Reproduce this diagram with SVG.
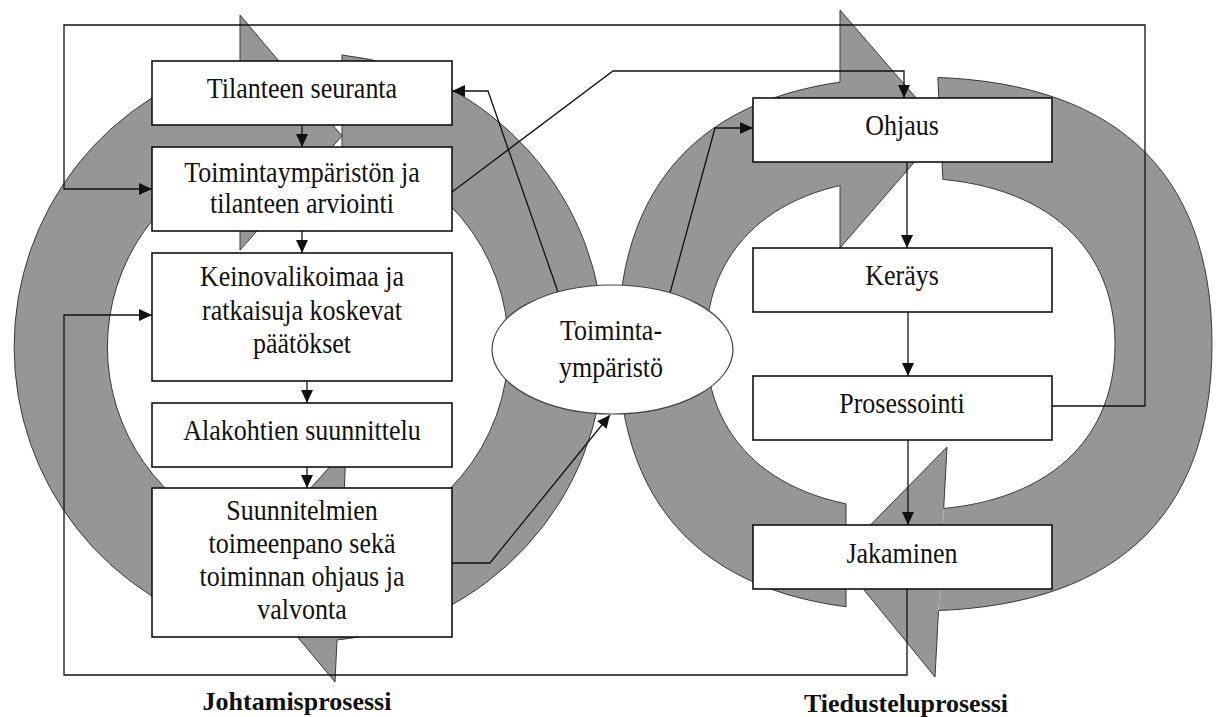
<svg xmlns="http://www.w3.org/2000/svg" width="1218" height="717" viewBox="0 0 1218 717">
<defs>
<style>
.ring{fill:#969696;stroke:#3a3a3a;stroke-width:1}
.rfill{fill:#969696;stroke:none}
.edge{fill:none;stroke:#3a3a3a;stroke-width:1}
.box{fill:#fff;stroke:#111;stroke-width:1.6}
.ell{fill:#fff;stroke:#444;stroke-width:1.2}
.con{fill:none;stroke:#111;stroke-width:1.3}
.arr{marker-end:url(#ah)}
.t{font-family:"Liberation Serif","Times New Roman",serif;font-size:26px;fill:#111;text-anchor:middle}
.title{font-family:"Liberation Serif","Times New Roman",serif;font-size:26px;font-weight:bold;fill:#111;text-anchor:middle}
</style>
<marker id="ah" markerUnits="userSpaceOnUse" markerWidth="14" markerHeight="12" refX="13" refY="6" orient="auto"><path d="M0,0 L13,6 L0,12 Z" fill="#111"/></marker>
<clipPath id="rl"><polygon points="0,0 840,0 840,344 846,344 846,717 0,717"/></clipPath>
<clipPath id="rr"><polygon points="934,0 1218,0 1218,717 933,717 947,447 951,344"/></clipPath>
<path id="rband" fill-rule="evenodd" d="M1212,344 C1212,520 1111,611 915,611 C719,611 618,520 618,344 C618,168 719,77 915,77 C1111,77 1212,168 1212,344 Z M1115,344 C1115,447 1037.5,510 910.5,510 C783.5,510 706,447 706,344 C706,241 783.5,178 910.5,178 C1037.5,178 1115,241 1115,344 Z"/>
</defs>
<rect width="1218" height="717" fill="#fff"/>

<g id="cycle-left">
<path class="ring" d="M240,633 A294,294 0 0 1 240,61 L240,15 L342,136 L240,250 L240,158 A201,201 0 0 0 240,536 Z"/>
<path class="ring" d="M342,55 A294,294 0 0 1 337,640 L335,682 L239,567 L346,449 L342,545 A201,201 0 0 0 342,149 Z"/>
</g>

<g id="cycle-right">
<g clip-path="url(#rl)"><use href="#rband" class="ring" fill-rule="evenodd"/></g>
<g clip-path="url(#rr)"><use href="#rband" class="ring" fill-rule="evenodd"/></g>
<polygon class="rfill" points="840,10 943,129 840,248"/>
<polyline class="edge" points="840,82 840,10 943,129 840,248 840,185"/>
<line class="edge" x1="937.8" y1="77.5" x2="942.9" y2="179.5"/>
<polygon class="rfill" points="947,447 838,558 935,677"/>
<polyline class="edge" points="943.7,508.5 947,447 838,558 935,677 938.5,610.6"/>
<line class="edge" x1="846" y1="504" x2="846" y2="607"/>
</g>

<g id="connectors">
<polyline class="con arr" points="1052,406 1145,406 1145,25 64,25 64,189 152,189"/>
<polyline class="con arr" points="907,589 907,675 64,675 64,315 152,315"/>
<polyline class="con arr" points="452,192 613,71 904,71 904,98"/>
<polyline class="con arr" points="558,292 488,91 452,91"/>
<polyline class="con arr" points="670,293 715,128 753,128"/>
<polyline class="con arr" points="452,563 490,563 610,415"/>
<line class="con arr" x1="302" y1="125" x2="302" y2="147"/>
<line class="con arr" x1="302" y1="231" x2="302" y2="253"/>
<line class="con arr" x1="307" y1="381" x2="307" y2="403"/>
<line class="con arr" x1="307" y1="467" x2="307" y2="488"/>
<line class="con arr" x1="907" y1="162" x2="907" y2="248"/>
<line class="con arr" x1="908" y1="312" x2="908" y2="376"/>
<line class="con arr" x1="908" y1="440" x2="908" y2="525"/>
</g>

<g id="n-tilanteen-seuranta">
<rect class="box" x="152" y="61" width="300" height="64"/>
<text class="t" transform="translate(302,98) scale(1,1.15)">Tilanteen seuranta</text>
</g>
<g id="n-arviointi">
<rect class="box" x="152" y="147" width="300" height="84"/>
<text class="t" transform="translate(302,182) scale(1,1.15)">Toimintaympäristön ja</text>
<text class="t" transform="translate(302,213) scale(1,1.15)">tilanteen arviointi</text>
</g>
<g id="n-paatokset">
<rect class="box" x="152" y="253" width="300" height="128"/>
<text class="t" transform="translate(302,286) scale(1,1.15)">Keinovalikoimaa ja</text>
<text class="t" transform="translate(302,320) scale(1,1.15)">ratkaisuja koskevat</text>
<text class="t" transform="translate(302,353) scale(1,1.15)">päätökset</text>
</g>
<g id="n-alakohtien">
<rect class="box" x="152" y="403" width="300" height="64"/>
<text class="t" transform="translate(302,440) scale(1,1.15)">Alakohtien suunnittelu</text>
</g>
<g id="n-toimeenpano">
<rect class="box" x="152" y="488" width="300" height="149"/>
<text class="t" transform="translate(302,520) scale(1,1.15)">Suunnitelmien</text>
<text class="t" transform="translate(302,553) scale(1,1.15)">toimeenpano sekä</text>
<text class="t" transform="translate(302,586) scale(1,1.15)">toiminnan ohjaus ja</text>
<text class="t" transform="translate(302,619) scale(1,1.15)">valvonta</text>
</g>

<g id="n-ohjaus">
<rect class="box" x="753" y="98" width="299" height="64"/>
<text class="t" transform="translate(902,135) scale(1,1.15)">Ohjaus</text>
</g>
<g id="n-kerays">
<rect class="box" x="753" y="248" width="299" height="64"/>
<text class="t" transform="translate(902,285) scale(1,1.15)">Keräys</text>
</g>
<g id="n-prosessointi">
<rect class="box" x="753" y="376" width="299" height="64"/>
<text class="t" transform="translate(902,413) scale(1,1.15)">Prosessointi</text>
</g>
<g id="n-jakaminen">
<rect class="box" x="753" y="525" width="299" height="64"/>
<text class="t" transform="translate(902,563) scale(1,1.15)">Jakaminen</text>
</g>

<g id="n-toimintaymparisto">
<ellipse class="ell" cx="612.5" cy="349.5" rx="120.5" ry="64.5"/>
<text class="t" transform="translate(611,340) scale(1,1.15)">Toiminta-</text>
<text class="t" transform="translate(611,377) scale(1,1.15)">ympäristö</text>
</g>

<g id="labels">
<text class="title" x="297" y="710">Johtamisprosessi</text>
<text class="title" x="906" y="712">Tiedusteluprosessi</text>
</g>
</svg>
